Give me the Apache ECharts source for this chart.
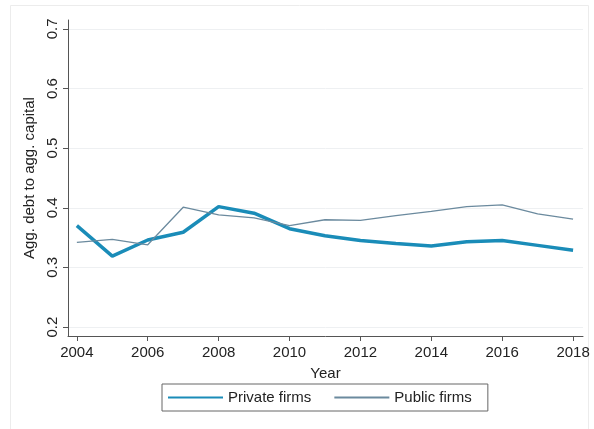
<!DOCTYPE html>
<html>
<head>
<meta charset="utf-8">
<script src="https://cdn.jsdelivr.net/npm/echarts@6/dist/echarts.min.js"></script>
<style>
  html, body { margin: 0; padding: 0; background: #fff; }
  #chart { width: 594px; height: 429px; }
</style>
</head>
<body>
<div id="chart"></div>
<script>
const years = [2004, 2005, 2006, 2007, 2008, 2009, 2010, 2011, 2012, 2013, 2014, 2015, 2016, 2017, 2018]
const privateFirms = [0.370, 0.319, 0.346, 0.359, 0.402, 0.391, 0.365, 0.353, 0.345, 0.340, 0.336, 0.343, 0.345, 0.337, 0.329]
const publicFirms = [0.342, 0.347, 0.338, 0.401, 0.388, 0.383, 0.370, 0.380, 0.379, 0.387, 0.394, 0.402, 0.405, 0.390, 0.381]
const xTicks = [2004, 2006, 2008, 2010, 2012, 2014, 2016, 2018]
const yTicks = [0.2, 0.3, 0.4, 0.5, 0.6, 0.7]

const font = 'Liberation Sans, Arial, sans-serif'
const axisColor = '#555'
const inkColor = '#222'

const chart = echarts.init(document.getElementById('chart'))

chart.setOption({
  animation: false,
  backgroundColor: '#fff',
  graphic: [{
    type: 'rect',
    shape: { x: 10.5, y: 5.5, width: 578, height: 426 },
    style: { fill: 'none', stroke: '#ececec', lineWidth: 1 },
    silent: true
  }],
  grid: { left: 68, right: 11, top: 20, bottom: 93 },
  legend: {
    left: 162,
    top: 384,
    padding: [6, 16, 6, 5],
    borderColor: '#666',
    borderWidth: 1,
    itemWidth: 55,
    itemHeight: 16,
    itemGap: 22,
    itemStyle: { opacity: 0 },
    textStyle: { color: inkColor, fontFamily: font, fontSize: 15 },
    data: ['Private firms', 'Public firms']
  },
  xAxis: {
    type: 'value',
    min: 2003.75,
    max: 2018.28,
    name: 'Year',
    nameLocation: 'middle',
    nameGap: 30,
    nameTextStyle: { color: inkColor, fontFamily: font, fontSize: 15 },
    axisLine: { lineStyle: { color: axisColor, width: 1 } },
    axisTick: { customValues: xTicks, length: 5, lineStyle: { color: axisColor } },
    axisLabel: {
      customValues: xTicks,
      color: inkColor,
      fontFamily: font,
      fontSize: 15,
      margin: 9,
      formatter: (v) => String(v)
    },
    splitLine: { show: false }
  },
  yAxis: {
    type: 'value',
    min: 0.185,
    max: 0.715,
    name: 'Agg. debt to agg. capital',
    nameLocation: 'middle',
    nameGap: 28,
    nameRotate: 90,
    nameTextStyle: { color: inkColor, fontFamily: font, fontSize: 15 },
    axisLine: { show: true, lineStyle: { color: axisColor, width: 1 } },
    axisTick: { show: true, customValues: yTicks, length: 5, lineStyle: { color: axisColor } },
    axisLabel: {
      customValues: yTicks,
      rotate: 90,
      color: inkColor,
      fontFamily: font,
      fontSize: 15,
      margin: 8,
      formatter: (v) => v.toFixed(1)
    },
    splitLine: { show: true, lineStyle: { color: '#eef0f2', width: 1 } }
  },
  series: [
    {
      name: 'Private firms',
      type: 'line',
      symbol: 'none',
      lineStyle: { width: 3.5, color: '#1a8cb8' },
      itemStyle: { color: '#1a8cb8' },
      data: years.map((y, i) => [y, privateFirms[i]])
    },
    {
      name: 'Public firms',
      type: 'line',
      symbol: 'none',
      lineStyle: { width: 1.3, color: '#6b8a9e' },
      itemStyle: { color: '#6b8a9e' },
      data: years.map((y, i) => [y, publicFirms[i]])
    }
  ]
})
</script>
</body>
</html>
